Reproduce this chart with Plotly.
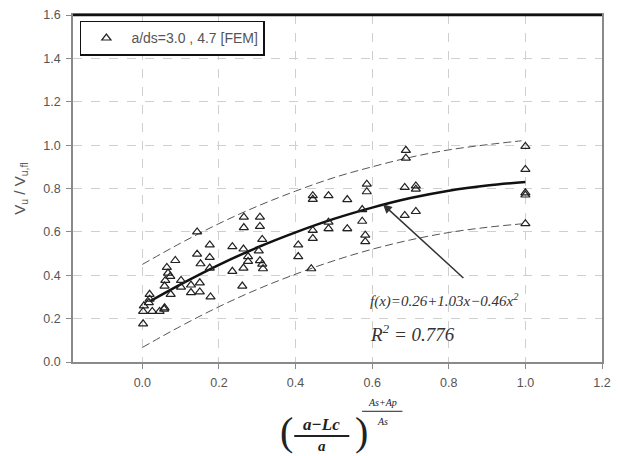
import plotly.graph_objects as go

# ---- data ----
fem_x = [0.002, 0.002, 0.004, 0.017, 0.019, 0.019, 0.026, 0.045, 0.057, 0.058,
         0.058, 0.060, 0.067, 0.064, 0.073, 0.074, 0.086,
         0.101, 0.101, 0.127, 0.127,
         0.143, 0.143, 0.152, 0.150, 0.150,
         0.176, 0.176, 0.176, 0.178,
         0.235, 0.235,
         0.261, 0.265, 0.265, 0.264, 0.264, 0.276, 0.276,
         0.307, 0.307, 0.313, 0.304, 0.307, 0.313, 0.315,
         0.407, 0.407,
         0.445, 0.445, 0.445, 0.445, 0.441,
         0.486, 0.486, 0.486,
         0.535, 0.535,
         0.586, 0.586, 0.574, 0.574, 0.582, 0.582,
         0.688, 0.688, 0.685, 0.685,
         0.714, 0.714, 0.714,
         1.0, 1.0, 1.0, 1.0, 1.0]
fem_y = [0.176, 0.233, 0.259, 0.274, 0.290, 0.312, 0.233, 0.233, 0.244, 0.250,
         0.350, 0.376, 0.410, 0.436, 0.395, 0.312, 0.468,
         0.376, 0.345, 0.355, 0.320,
         0.600, 0.497, 0.453, 0.365, 0.323,
         0.540, 0.482, 0.433, 0.300,
         0.532, 0.418,
         0.350, 0.668, 0.620, 0.521, 0.433, 0.486, 0.464,
         0.668, 0.625, 0.565, 0.512, 0.467, 0.451, 0.430,
         0.540, 0.486,
         0.767, 0.750, 0.607, 0.570, 0.430,
         0.767, 0.645, 0.615,
         0.749, 0.615,
         0.820, 0.785, 0.703, 0.649, 0.585, 0.555,
         0.976, 0.940, 0.805, 0.676,
         0.812, 0.797, 0.694,
         0.994, 0.888, 0.780, 0.770, 0.638]

fit_x = [0.02, 0.1, 0.2, 0.3, 0.4, 0.5, 0.6, 0.7, 0.8, 0.9, 1.0]
fit_y = [0.280, 0.358, 0.448, 0.528, 0.598, 0.660, 0.712, 0.756, 0.790, 0.814, 0.830]

band_x = [0.0, 0.1, 0.2, 0.3, 0.4, 0.5, 0.6, 0.7, 0.8, 0.9, 0.99]
upper_y = [0.450, 0.548, 0.638, 0.718, 0.788, 0.850, 0.900, 0.944, 0.978, 1.002, 1.020]
lower_y = [0.067, 0.165, 0.255, 0.335, 0.405, 0.467, 0.520, 0.563, 0.597, 0.621, 0.637]

x_ticks = [0.0, 0.2, 0.4, 0.6, 0.8, 1.0, 1.2]
y_ticks = [0.0, 0.2, 0.4, 0.6, 0.8, 1.0, 1.2, 1.4, 1.6]

# ---- layout geometry ----
W, H = 619, 456
ML, MR, MT, MB = 73, 8, 10, 94
PW, PH = W - ML - MR, H - MT - MB


def px(xp):
    return (xp - ML) / PW


def py(yp):
    return (H - MB - yp) / PH


GRID = "#cfcfcf"
AXIS = "#8a8a8a"
TXT = "#555555"

fig = go.Figure()

fig.add_trace(go.Scatter(x=band_x, y=upper_y, mode="lines", showlegend=False,
                         line=dict(color="#555555", width=1, dash="8px,4px", shape="spline"),
                         hoverinfo="skip"))
fig.add_trace(go.Scatter(x=band_x, y=lower_y, mode="lines", showlegend=False,
                         line=dict(color="#555555", width=1, dash="8px,4px", shape="spline"),
                         hoverinfo="skip"))
fig.add_trace(go.Scatter(x=fit_x, y=fit_y, mode="lines", showlegend=False,
                         line=dict(color="#111111", width=2.5, shape="spline")))
fig.add_trace(go.Scatter(x=fem_x, y=fem_y, mode="markers", name="a/ds=3.0 , 4.7 [FEM]",
                         marker=dict(symbol="triangle-up-open", size=8,
                                     color="#222222", line=dict(width=1.2, color="#222222"))))

axis_common = dict(
    showline=True, linecolor=AXIS, linewidth=1.5, mirror=True,
    ticks="outside", ticklen=5, tickcolor=AXIS, ticklabelstandoff=3,
    showgrid=True, gridcolor=GRID, griddash="dash", gridwidth=1,
    zeroline=False, tickformat=".1f",
    tickfont=dict(family="Liberation Sans, Arial", size=12.5, color=TXT),
)

fig.update_xaxes(range=[-0.181, 1.2], tickvals=x_ticks, **axis_common)
fig.update_yaxes(range=[0, 1.6], tickvals=y_ticks,
                 title=dict(text="V<sub>u</sub> / V<sub>u,fl</sub>", standoff=14,
                            font=dict(family="Liberation Sans, Arial", size=15, color=TXT)),
                 **axis_common)

annotations = []
serif = "Liberation Serif, Times New Roman, serif"
# arrow to the fitted curve
annotations.append(dict(x=0.628, y=0.727, xref="x", yref="y", ax=82, ay=75,
                        showarrow=True, arrowhead=2, arrowsize=1.2, arrowwidth=1.5,
                        arrowcolor="#333333", text=""))
annotations.append(dict(x=0.588, y=0.282, xref="x", yref="y", xanchor="left", yanchor="middle",
                        showarrow=False,
                        text="<i>f(x)=0.26+1.03x\u22120.46x<sup>2</sup></i>",
                        font=dict(family=serif, size=15, color="#333333")))
annotations.append(dict(x=0.588, y=0.132, xref="x", yref="y", xanchor="left", yanchor="middle",
                        showarrow=False,
                        text="<i>R<sup>2</sup> = 0.776</i>",
                        font=dict(family=serif, size=19, color="#333333")))

# x-axis title: ((a - Lc)/a)^((As+Ap)/As)
annotations += [
    dict(x=px(290), y=py(433), text="(", font=dict(family=serif, size=40, color="#222222")),
    dict(x=px(366), y=py(433), text=")", font=dict(family=serif, size=40, color="#222222")),
    dict(x=px(326), y=py(425), text="<b><i>a\u2212Lc</i></b>", font=dict(family=serif, size=17, color="#222222")),
    dict(x=px(326), y=py(447), text="<b><i>a</i></b>", font=dict(family=serif, size=15, color="#222222")),
    dict(x=px(388), y=py(403), text="<i>As+Ap</i>", font=dict(family=serif, size=10, color="#222222")),
    dict(x=px(388), y=py(422), text="<i>As</i>", font=dict(family=serif, size=10, color="#222222")),
]
for a in annotations[3:]:
    a.update(xref="paper", yref="paper", showarrow=False, xanchor="center", yanchor="middle")

fig.update_layout(annotations=annotations)

shapes = [
    # top border (dark)
    dict(type="line", xref="paper", yref="paper", x0=0, x1=1, y0=1, y1=1,
         line=dict(color="#111111", width=2.5)),
    # fraction bars in x title
    dict(type="line", xref="paper", yref="paper", x0=px(298), x1=px(354), y0=py(437), y1=py(437),
         line=dict(color="#222222", width=2)),
    dict(type="line", xref="paper", yref="paper", x0=px(367), x1=px(408), y0=py(412), y1=py(412),
         line=dict(color="#222222", width=1)),
]

fig.update_layout(
    width=W, height=H,
    margin=dict(l=ML, r=MR, t=MT, b=MB, pad=0),
    paper_bgcolor="white", plot_bgcolor="white",
    shapes=shapes,
    showlegend=True,
    legend=dict(x=px(80), y=py(16), xanchor="left", yanchor="top",
                bgcolor="white", bordercolor="#111111", borderwidth=1.5,
                font=dict(family="Liberation Sans, Arial", size=14, color=TXT),
                itemwidth=40, tracegroupgap=0),
)

fig.write_html("out.html")
